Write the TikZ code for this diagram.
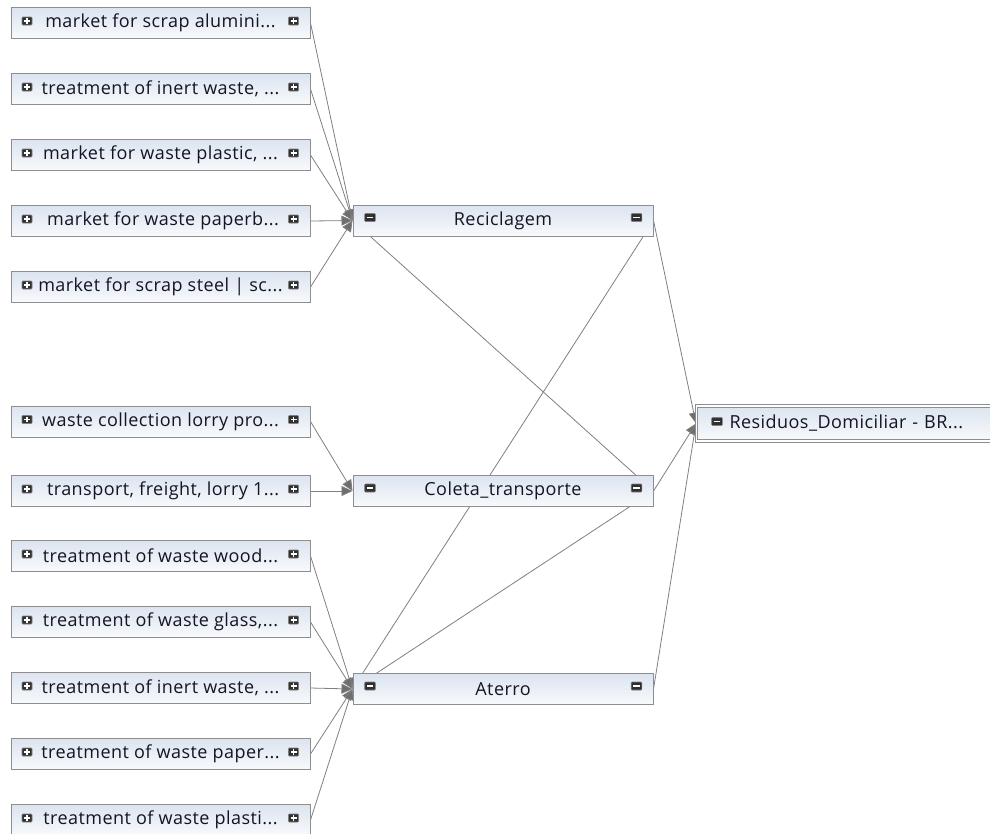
\documentclass[tikz,border=0pt]{standalone}
\usepackage{fontspec}
\setmainfont[LetterSpace=2.5]{Open Sans}
\usetikzlibrary{arrows.meta,backgrounds}
\definecolor{edgec}{HTML}{808080}
\definecolor{tipc}{HTML}{6E6E6E}
\definecolor{boxline}{HTML}{8E8E8E}
\definecolor{boxtop}{HTML}{DCE4F0}
\definecolor{boxbot}{HTML}{F8FAFC}
\definecolor{txt}{HTML}{141424}
\definecolor{iconc}{HTML}{303030}
\begin{document}
\begin{tikzpicture}[x=1pt,y=-1pt,
  box/.style={draw=boxline, line width=1pt, top color=boxtop, bottom color=boxbot,
    minimum height=31pt, inner sep=0pt, font=\fontsize{18}{21}\selectfont, text=txt},
  leftbox/.style={box, minimum width=299pt},
  midbox/.style={box, minimum width=300pt},
  conn/.style={draw=edgec, line width=0.8pt},
  arr/.style={conn, -{Triangle[length=11pt,width=10pt,fill=tipc]}},
  plusicon/.pic={\filldraw[fill=iconc, draw=gray, line width=0.6pt, rounded corners=0.8pt] (-5,-4) rectangle (5,4);
    \draw[white, line width=1.6pt] (-3,0)--(3,0) (0,-2.6)--(0,2.6);},
  minusicon/.pic={\filldraw[fill=iconc, draw=gray, line width=0.6pt, rounded corners=0.8pt] (-5.3,-4) rectangle (5.3,4);
    \draw[white, line width=1.6pt] (-3.2,0)--(3.2,0);}
]
\clip (0,0) rectangle (990,833);

% left nodes
\foreach \n/\y/\t in {
  l1/23/{market for scrap alumini...},
  l2/89/{treatment of inert waste, ...},
  l3/155/{market for waste plastic, ...},
  l4/221/{\ market for waste paperb...},
  l5/287/{market for scrap steel | sc...},
  l6/421.5/{waste collection lorry pro...},
  l7/491/{\ transport, freight, lorry 1...},
  l8/556/{treatment of waste wood...},
  l9/622/{treatment of waste glass,...},
  l10/688/{treatment of inert waste, ...},
  l11/754/{treatment of waste paper...},
  l12/820/{treatment of waste plasti...}}
{
  \node[leftbox] (\n) at (160.5,\y) {\t};
  \pic at ([xshift=16.5pt,yshift=2pt]\n.west) {plusicon};
  \pic at ([xshift=-17pt,yshift=2pt]\n.east) {plusicon};
}

% middle nodes
\node[midbox] (rec) at (503,220.5) {Reciclagem};
\node[midbox] (col) at (503,491) {Coleta\_transporte};
\node[midbox] (ate) at (503,689) {Aterro};
\foreach \m in {rec,col,ate}{
  \pic at ([xshift=17.5pt,yshift=3pt]\m.west) {minusicon};
  \pic at ([xshift=-17pt,yshift=3pt]\m.east) {minusicon};
}

% right node
\node[box, anchor=west, minimum height=35pt, double=white, double distance=1.6pt,
  text width=270pt, align=left, inner xsep=33pt] (res) at (696,423.5) {Residuos\_Domiciliar - BR...};
\pic at ([xshift=21pt,yshift=2pt]res.west) {minusicon};

\begin{scope}[on background layer]
  \fill[white] (0,0) rectangle (990,833);
  \foreach \n in {l1,l2,l3,l4,l5} \draw[arr] (\n.east) -- (rec.west);
  \foreach \n in {l6,l7} \draw[arr] (\n.east) -- (col.west);
  \foreach \n in {l8,l9,l10,l11,l12} \draw[arr] (\n.east) -- (ate.west);
  \draw[conn] (col.east) -- (rec.west);
  \draw[conn] (rec.east) -- (ate.west);
  \draw[conn] (col.east) -- (ate.west);
  \foreach \m in {rec,col,ate} \draw[arr] (\m.east) -- (res.west);
\end{scope}
\end{tikzpicture}
\end{document}
